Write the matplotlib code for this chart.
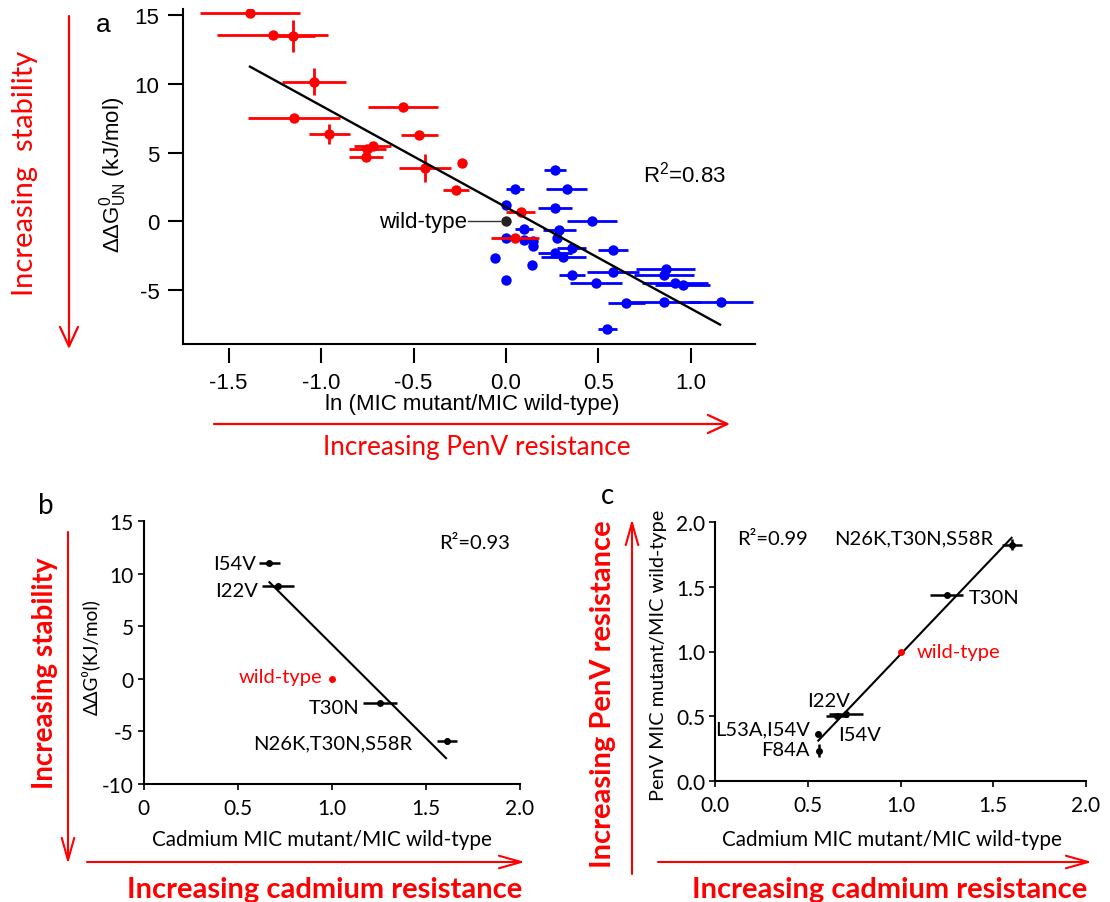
import matplotlib
matplotlib.use('Agg')
import matplotlib.pyplot as plt
from matplotlib.patches import FancyArrowPatch

plt.rcParams['axes.unicode_minus'] = False
plt.rcParams['mathtext.fontset'] = 'custom'
plt.rcParams['mathtext.rm'] = 'Liberation Sans'
plt.rcParams['mathtext.it'] = 'Liberation Sans:italic'
plt.rcParams['mathtext.bf'] = 'Liberation Sans:bold'

# ---------------- data: panel a ----------------
red_x = [-1.384, -1.261, -1.153, -1.038, -0.558, -1.146, -0.469, -0.955, -0.720, -0.750,
         -0.757, -0.239, -0.438, -0.272, 0.079, 0.049]
red_y = [15.16, 13.59, 13.51, 10.17, 8.35, 7.50, 6.29, 6.36, 5.50, 5.30,
         4.69, 4.23, 3.89, 2.29, 0.71, -1.22]
red_xerr = [0.27, 0.30, 0.12, 0.175, 0.19, 0.25, 0.10, 0.11, 0.10, 0.10,
            0.09, 0.0, 0.14, 0.07, 0.08, 0.13]
red_yerr = [0.0, 0.0, 1.17, 1.0, 0.0, 0.0, 0.0, 0.7, 0.0, 0.0,
            0.0, 0.0, 1.0, 0.3, 0.0, 0.0]

blue_x = [0.265, 0.049, 0.328, 0.000, 0.265, 0.463, 0.097, 0.288, 0.277, 0.000,
          0.097, 0.144, 0.148, 0.355, 0.577, 0.265, 0.310, -0.060, 0.139, 0.863,
          0.854, 0.577, 0.357, 0.000, 0.486, 0.914, 0.955, 0.649, 0.854, 1.160, 0.548]
blue_y = [3.77, 2.36, 2.36, 1.22, 1.00, 0.06, -0.55, -0.60, -1.20, -1.20,
          -1.32, -1.40, -1.76, -1.93, -2.07, -2.31, -2.60, -2.65, -3.16, -3.45,
          -3.89, -3.65, -3.89, -4.25, -4.47, -4.47, -4.62, -5.95, -5.88, -5.88, -7.82]
blue_xerr = [0.06, 0.05, 0.11, 0.0, 0.09, 0.135, 0.05, 0.09, 0.0, 0.0,
             0.0, 0.0, 0.0, 0.08, 0.08, 0.09, 0.12, 0.0, 0.0, 0.16,
             0.16, 0.14, 0.07, 0.0, 0.14, 0.18, 0.15, 0.10, 0.20, 0.175, 0.05]
blue_yerr = [0.2, 0.2, 0.0, 0.0, 0.0, 0.0, 0.2, 0.2, 0.0, 0.0,
             0.0, 0.0, 0.0, 0.0, 0.2, 0.0, 0.0, 0.0, 0.0, 0.0,
             0.0, 0.0, 0.0, 0.0, 0.0, 0.0, 0.0, 0.25, 0.0, 0.0, 0.25]
wt_a = (0.0, 0.0)
fit_a_x = [-1.384, 1.157]
fit_a_y = [11.26, -7.50]
a_xticks = [-1.5, -1.0, -0.5, 0.0, 0.5, 1.0]
a_xticklabels = ['-1.5', '-1.0', '-0.5', '0.0', '0.5', '1.0']
a_yticks = [-5, 0, 5, 10, 15]
a_yticklabels = ['-5', '0', '5', '10', '15']

# ---------------- data: panel b ----------------
b_labels = ['I54V', 'I22V', 'T30N', 'N26K,T30N,S58R']
b_x = [0.669, 0.717, 1.256, 1.612]
b_y = [10.98, 8.86, -2.27, -5.90]
b_xerr = [0.058, 0.085, 0.09, 0.053]
b_yerr = [0.0, 0.0, 0.0, 0.3]
wt_b = (1.0, 0.0)
fit_b_x = [0.669, 1.607]
fit_b_y = [9.18, -7.54]
b_xticks = [0, 0.5, 1.0, 1.5, 2.0]
b_xticklabels = ['0', '0.5', '1.0', '1.5', '2.0']
b_yticks = [-10, -5, 0, 5, 10, 15]
b_yticklabels = ['-10', '-5', '0', '5', '10', '15']

# ---------------- data: panel c ----------------
c_labels = ['N26K,T30N,S58R', 'T30N', 'I22V', 'I54V', 'L53A,I54V', 'F84A']
c_x = [1.599, 1.249, 0.706, 0.656, 0.557, 0.561]
c_y = [1.826, 1.44, 0.52, 0.502, 0.364, 0.234]
c_xerr = [0.054, 0.09, 0.09, 0.06, 0.0, 0.0]
c_yerr = [0.04, 0.0, 0.0, 0.0, 0.02, 0.05]
wt_c = (1.0, 1.0)
fit_c_x = [0.557, 1.599]
fit_c_y = [0.312, 1.878]
c_ticks = [0.0, 0.5, 1.0, 1.5, 2.0]
c_ticklabels = ['0.0', '0.5', '1.0', '1.5', '2.0']

# ---------------- figure ----------------
W, H = 1110, 903
fig = plt.figure(figsize=(W / 100, H / 100), dpi=100)


def fx(px):
    return px / W


def fy(py):
    return 1 - py / H


A_FONT = ['Liberation Sans', 'DejaVu Sans']
BC_FONT = ['Lato', 'DejaVu Sans']
RED = '#ff0000'
BC_TICK = 15
BC_LAB = 14.5


def arrow(x0, y0, x1, y1, hl, hw, lw=1.6):
    p = FancyArrowPatch((fx(x0), fy(y0)), (fx(x1), fy(y1)), transform=fig.transFigure,
                        arrowstyle='->,head_length=%g,head_width=%g' % (hl, hw),
                        color=RED, lw=lw, mutation_scale=1, shrinkA=0, shrinkB=0)
    fig.patches.append(p)


# ================= panel a =================
axa = fig.add_axes([fx(183), fy(345), (755 - 183) / W, (345 - 10) / H])
axa.set_xlim(-1.746, 1.346)
axa.set_ylim(-8.91, 15.45)
for s in ['top', 'right']:
    axa.spines[s].set_visible(False)
axa.spines['left'].set_linewidth(1.5)
axa.spines['bottom'].set_position(('outward', 3))
axa.spines['bottom'].set_visible(False)
axa.axhline(-8.91, color='black', lw=1.5, clip_on=False)
axa.set_xticks(a_xticks, a_xticklabels, fontfamily=A_FONT, fontsize=16)
axa.set_yticks(a_yticks, a_yticklabels, fontfamily=A_FONT, fontsize=16)
axa.tick_params(length=11, width=1.5, pad=6)

axa.errorbar(blue_x, blue_y, xerr=blue_xerr, yerr=blue_yerr, fmt='o', color='#0000ff',
             ms=7.5, mew=0, elinewidth=2, capsize=0, zorder=3)
axa.errorbar(red_x, red_y, xerr=red_xerr, yerr=red_yerr, fmt='o', color='#ff0000',
             ms=7.5, mew=0, elinewidth=2, capsize=0, zorder=4)
axa.plot(fit_a_x, fit_a_y, color='black', lw=1.7, zorder=5)
axa.plot([wt_a[0]], [wt_a[1]], 'o', color='#222222', ms=7.5, mew=0, zorder=6)
axa.plot([-0.205, -0.03], [0, 0], color='#333333', lw=1, zorder=5)
axa.text(-0.212, 0, 'wild-type', ha='right', va='center', fontsize=16, fontfamily=A_FONT)
axa.text(0.74, 3.45, 'R$^2$=0.83', ha='left', va='center', fontsize=16, fontfamily=A_FONT)

fig.text(fx(113), fy(175), r'$\Delta\Delta\mathrm{G}^{0}_{\mathrm{UN}}$ (kJ/mol)', rotation=90,
         ha='center', va='center', fontsize=16, fontfamily=A_FONT)
fig.text(fx(472), fy(405), 'ln (MIC mutant/MIC wild-type)', ha='center', va='center',
         fontsize=16, fontfamily=A_FONT)
fig.text(fx(103), fy(25), 'a', ha='center', va='center', fontsize=19, fontfamily=A_FONT)
fig.text(fx(25), fy(173), 'Increasing  stability', rotation=90, ha='center', va='center',
         fontsize=21, color=RED, fontfamily=BC_FONT)
fig.text(fx(477), fy(448), 'Increasing PenV resistance', ha='center', va='center',
         fontsize=18.8, color=RED, fontfamily=BC_FONT)
arrow(69, 17, 69, 350, 14, 6.5, 1.6)
arrow(214, 425, 730, 425, 14, 6.5, 1.6)

# ================= panel b =================
axb = fig.add_axes([fx(143.5), fy(785), (520 - 143.5) / W, (785 - 522) / H])
axb.set_xlim(0, 2.0)
axb.set_ylim(-10, 15)
for s in ['top', 'right']:
    axb.spines[s].set_visible(False)
for s in ['left', 'bottom']:
    axb.spines[s].set_linewidth(1.5)
axb.set_xticks(b_xticks, b_xticklabels, fontfamily=BC_FONT, fontsize=BC_TICK)
axb.set_yticks(b_yticks, b_yticklabels, fontfamily=BC_FONT, fontsize=BC_TICK)
axb.tick_params(length=4, width=1.2, pad=3)
axb.tick_params(axis='x', pad=6)
axb.plot(fit_b_x, fit_b_y, color='black', lw=1.5, zorder=2)
axb.errorbar(b_x, b_y, xerr=b_xerr, yerr=b_yerr, fmt='o', color='black', ms=5, mew=0,
             elinewidth=1.8, capsize=0, zorder=3)
axb.plot([wt_b[0]], [wt_b[1]], 'o', color=RED, ms=5, mew=0, zorder=4)
b_text_pos = [(0.60, 10.98, 'right'), (0.61, 8.4, 'right'), (1.15, -2.75, 'right'),
              (1.43, -6.1, 'right')]
for lab, (tx, ty, ha) in zip(b_labels, b_text_pos):
    axb.text(tx, ty, lab, ha=ha, va='center', fontsize=BC_LAB, fontfamily=BC_FONT)
axb.text(0.95, 0.2, 'wild-type', ha='right', va='center', fontsize=BC_LAB, color=RED,
         fontfamily=BC_FONT)
axb.text(1.571, 13.0, 'R²=0.93', ha='left', va='center', fontsize=BC_LAB, fontfamily=BC_FONT)

fig.text(fx(90), fy(657), 'ΔΔG⁰(KJ/mol)', rotation=90, ha='center', va='center',
         fontsize=13.6, fontfamily=BC_FONT)
fig.text(fx(322), fy(840), 'Cadmium MIC mutant/MIC wild-type', ha='center', va='center',
         fontsize=14.9, fontfamily=BC_FONT)
fig.text(fx(46), fy(506), 'b', ha='center', va='center', fontsize=20, fontfamily=BC_FONT)
fig.text(fx(45), fy(673), 'Increasing stability', rotation=90, ha='center', va='center',
         fontsize=20, color=RED, fontweight='bold', fontfamily=BC_FONT)
fig.text(fx(325), fy(890), 'Increasing cadmium resistance', ha='center', va='center',
         fontsize=21, color=RED, fontweight='bold', fontfamily=BC_FONT)
arrow(68, 533, 68, 865, 16, 4.5, 1.5)
arrow(87, 863, 525, 863, 16, 4.5, 1.5)

# ================= panel c =================
axc = fig.add_axes([fx(715), fy(782), (1086 - 715) / W, (782 - 523) / H])
axc.set_xlim(0, 2.0)
axc.set_ylim(0, 2.0)
for s in ['top', 'right']:
    axc.spines[s].set_visible(False)
for s in ['left', 'bottom']:
    axc.spines[s].set_linewidth(1.5)
axc.set_xticks(c_ticks, c_ticklabels, fontfamily=BC_FONT, fontsize=BC_TICK)
axc.set_yticks(c_ticks, c_ticklabels, fontfamily=BC_FONT, fontsize=BC_TICK)
axc.tick_params(length=4, width=1.2, pad=3)
axc.tick_params(axis='x', pad=6)
axc.plot(fit_c_x, fit_c_y, color='black', lw=1.5, zorder=2)
axc.errorbar(c_x, c_y, xerr=c_xerr, yerr=c_yerr, fmt='o', color='black', ms=5, mew=0,
             elinewidth=1.8, capsize=0, zorder=3)
axc.plot([wt_c[0]], [wt_c[1]], 'o', color=RED, ms=5, mew=0, zorder=4)
c_text_pos = [(1.50, 1.88, 'right'), (1.366, 1.415, 'left'), (0.61, 0.62, 'center'),
              (0.665, 0.356, 'left'), (0.512, 0.40, 'right'), (0.512, 0.247, 'right')]
for lab, (tx, ty, ha) in zip(c_labels, c_text_pos):
    axc.text(tx, ty, lab, ha=ha, va='center', fontsize=BC_LAB, fontfamily=BC_FONT)
axc.text(1.087, 1.0, 'wild-type', ha='left', va='center', fontsize=BC_LAB, color=RED,
         fontfamily=BC_FONT)
axc.text(0.117, 1.87, 'R²=0.99', ha='left', va='center', fontsize=BC_LAB, fontfamily=BC_FONT)

fig.text(fx(658), fy(655), 'PenV MIC mutant/MIC wild-type', rotation=90, ha='center',
         va='center', fontsize=14.3, fontfamily=BC_FONT)
fig.text(fx(892), fy(840), 'Cadmium MIC mutant/MIC wild-type', ha='center', va='center',
         fontsize=14.9, fontfamily=BC_FONT)
fig.text(fx(608), fy(496), 'c', ha='center', va='center', fontsize=20, fontfamily=BC_FONT)
fig.text(fx(603), fy(694), 'Increasing PenV resistance', rotation=90, ha='center',
         va='center', fontsize=21, color=RED, fontweight='bold', fontfamily=BC_FONT)
fig.text(fx(890), fy(890), 'Increasing cadmium resistance', ha='center', va='center',
         fontsize=21, color=RED, fontweight='bold', fontfamily=BC_FONT)
arrow(632, 875, 632, 520, 16, 4.5, 1.5)
arrow(658, 863, 1092, 863, 16, 4.5, 1.5)

fig.savefig('out.png', dpi=100)
